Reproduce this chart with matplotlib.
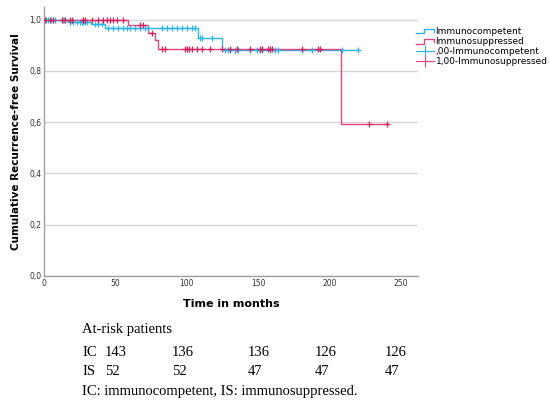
import numpy as np
import matplotlib
matplotlib.use("Agg")
import matplotlib.pyplot as plt
from matplotlib.lines import Line2D
from matplotlib.legend_handler import HandlerBase

# --- data ---
ic_times = [0, 17, 33, 43, 108, 125, 221]
ic_surv = [1.0, 0.993, 0.982, 0.967, 0.928, 0.880, 0.880]
ic_censor = [1.5, 3, 5, 6, 8, 13, 14, 18, 20.5, 23, 25, 26.5, 27, 29, 30,
             36, 38, 40.5, 45, 48.5, 52, 55, 58, 60, 64, 67, 71, 73, 83, 86,
             89.5, 93, 96.5, 100, 103.5, 106, 109, 111, 118, 127, 129, 130,
             134, 136, 144, 149, 151, 153, 158, 162, 164, 181, 188, 209, 220]

is_times = [0, 59, 73, 78, 80, 208, 241]
is_surv = [1.0, 0.980, 0.948, 0.919, 0.886, 0.592, 0.592]
is_censor = [1, 4, 6.5, 12.5, 15, 18, 19.5, 27, 27.5, 29, 33.5, 38, 41, 44,
             46, 48.5, 51, 55, 67, 69.5, 76, 83, 85, 99, 100, 101.5, 103.5,
             107, 111, 116, 125, 135, 130, 144, 151, 153, 157, 158, 160, 181,
             192, 193, 227.5, 240]

risk_groups = ["IC", "IS"]
risk_ic = ["143", "136", "136", "126", "126"]
risk_is = ["52", "52", "47", "47", "47"]

CYAN = "#2bb5ea"
PINK = "#e0487a"
PINK_MARK = "#d41f5c"


def step_value(t, times, surv):
    idx = np.searchsorted(times, t, side="right") - 1
    return np.array(surv)[idx]


class StepHandler(HandlerBase):
    def create_artists(self, legend, orig_handle, xdescent, ydescent,
                       width, height, fontsize, trans):
        lo = height * 0.1 - ydescent
        hi = height * 0.75 - ydescent
        xs = [-xdescent, -xdescent + width * 0.45, -xdescent + width * 0.45,
              -xdescent + width, -xdescent + width]
        ys = [lo, lo, hi, hi, hi - height * 0.35]
        ln = Line2D(xs, ys, color=orig_handle.get_color(), lw=1.0)
        ln.set_transform(trans)
        return [ln]


fig = plt.figure(figsize=(5.5, 4.07), dpi=100)
ax = fig.add_axes([0.08, 0.3219, 0.68, 0.6611])

ax.step(ic_times, ic_surv, where="post", color=CYAN, lw=1.0, zorder=3)
ax.step(is_times, is_surv, where="post", color=PINK, lw=1.0, zorder=3)
ax.plot(ic_censor, step_value(ic_censor, ic_times, ic_surv), ls="none",
        marker="+", ms=4.5, mew=0.9, color=CYAN, zorder=4)
ax.plot(is_censor, step_value(is_censor, is_times, is_surv), ls="none",
        marker="+", ms=4.5, mew=0.9, color=PINK_MARK, zorder=4)

ax.set_xlim(0, 262)
ax.set_ylim(0, 1.05)
ax.set_xticks([0, 50, 100, 150, 200, 250])
ax.set_yticks([0, 0.2, 0.4, 0.6, 0.8, 1.0])
ax.set_yticklabels(["0,0", "0,2", "0,4", "0,6", "0,8", "1,0"])
ax.tick_params(length=0, labelsize=5.5, colors="#333333", pad=2)
ax.grid(axis="y", color="#d6d6d6", lw=1.0)
ax.set_axisbelow(True)
for s in ["top", "right"]:
    ax.spines[s].set_visible(False)
for s in ["left", "bottom"]:
    ax.spines[s].set_color("#a0a0a0")
    ax.spines[s].set_linewidth(1.0)

ax.set_xlabel("Time in months", fontsize=8, fontweight="bold", labelpad=8)
ax.set_ylabel("Cumulative Recurrence-free Survival", fontsize=7.5,
              fontweight="bold", labelpad=6)

h1 = Line2D([], [], color=CYAN)
h2 = Line2D([], [], color=PINK)
h3 = Line2D([], [], color=CYAN, marker="+", ms=8, mew=0.8, lw=0.8)
h4 = Line2D([], [], color=PINK, marker="+", ms=8, mew=0.8, lw=0.8)
ax.legend([h1, h2, h3, h4],
          ["Immunocompetent", "Immunosuppressed", ",00-Immunocompetent",
           "1,00-Immunosuppressed"],
          handler_map={h1: StepHandler(), h2: StepHandler()},
          loc="upper left", bbox_to_anchor=(0.995, 0.925), frameon=False,
          fontsize=6.5, handlelength=2.0, handletextpad=0.15,
          labelspacing=0.12, borderaxespad=0, borderpad=0)

# --- at-risk table ---
serif = "Liberation Serif"
fs = 10.5
fig.text(82 / 550, 1 - 330 / 407, "At-risk patients", family=serif,
         fontsize=fs, va="center")
col_x = [105, 172, 248, 315, 385]
for row, (name, vals) in enumerate(zip(risk_groups, [risk_ic, risk_is])):
    y = 1 - (352 + row * 19.5) / 407
    fig.text(82 / 550, y, name, family=serif, fontsize=fs, va="center")
    for cx, v in zip(col_x, vals):
        fig.text(cx / 550, y, v, family=serif, fontsize=fs, va="center")
fig.text(82 / 550, 1 - 391 / 407, "IC: immunocompetent, IS: immunosuppressed.",
         family=serif, fontsize=fs, va="center")

fig.savefig("out.png", dpi=100)
